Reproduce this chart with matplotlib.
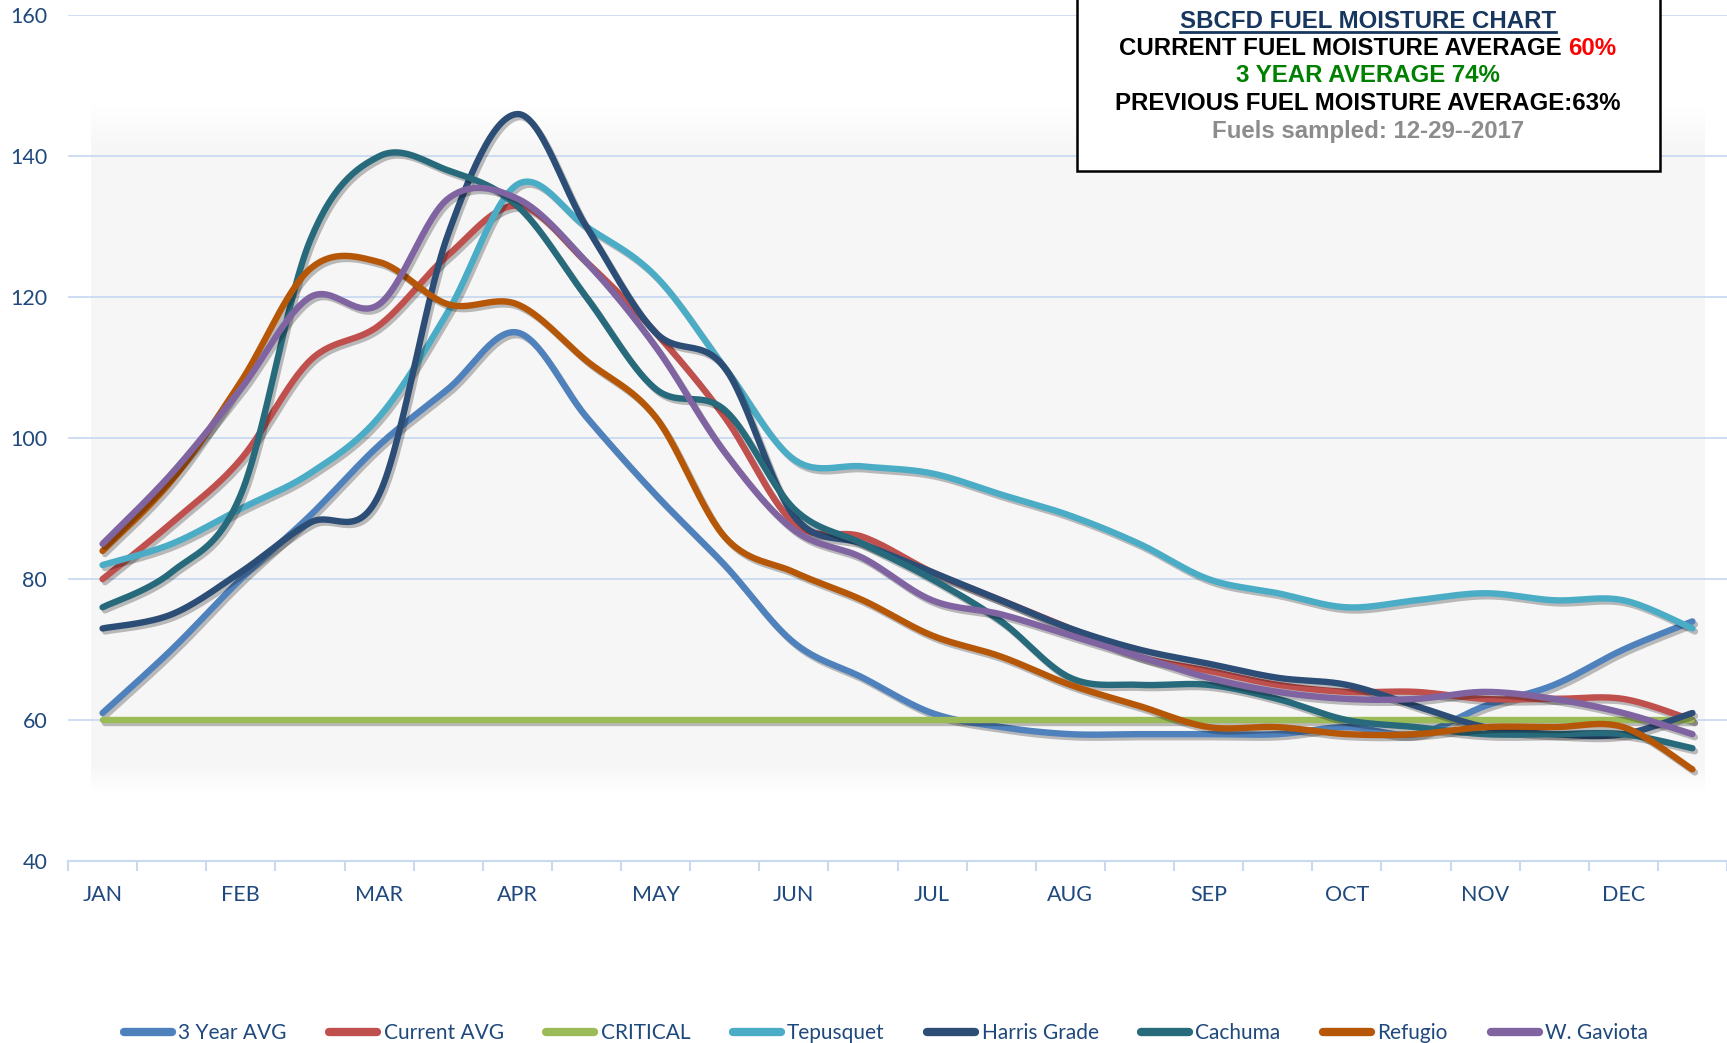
import numpy as np
import matplotlib
matplotlib.use("Agg")
import matplotlib.pyplot as plt
import matplotlib.patheffects as pe
from matplotlib.patches import Rectangle

# ---------------- data ----------------
categories = ["JAN", "", "FEB", "", "MAR", "", "APR", "", "MAY", "", "JUN", "",
              "JUL", "", "AUG", "", "SEP", "", "OCT", "", "NOV", "", "DEC", ""]

three_year_avg = [61, 70, 80, 89, 99, 107, 115, 103, 92, 82, 71, 66,
                  61, 59, 58, 58, 58, 58, 59, 58, 62, 65, 70, 74]
current_avg = [80, 88, 97, 111, 116, 126, 133, 125, 115, 103, 88, 86,
               81, 77, 73, 69, 67, 65, 64, 64, 63, 63, 63, 60]
critical = [60] * 24
tepusquet = [82, 85, 90, 95, 103, 118, 136, 130, 123, 110, 97, 96,
             95, 92, 89, 85, 80, 78, 76, 77, 78, 77, 77, 73]
harris_grade = [73, 75, 81, 88, 92, 129, 146, 130, 115, 110, 89, 85,
                81, 77, 73, 70, 68, 66, 65, 62, 59, 58, 58, 61]
cachuma = [76, 81, 92, 128, 140, 138, 133, 120, 107, 104, 90, 85,
           80, 74, 66, 65, 65, 63, 60, 59, 58, 58, 58, 56]
refugio = [84, 94, 108, 124, 125, 119, 119, 111, 103, 86, 81, 77,
           72, 69, 65, 62, 59, 59, 58, 58, 59, 59, 59, 53]
w_gaviota = [85, 95, 107, 120, 119, 134, 134, 125, 113, 98, 87, 83,
             77, 75, 72, 69, 66, 64, 63, 63, 64, 63, 61, 58]

series_names = ["3 Year AVG", "Current AVG", "CRITICAL", "Tepusquet",
                "Harris Grade", "Cachuma", "Refugio", "W. Gaviota"]
series_values = [three_year_avg, current_avg, critical, tepusquet,
                 harris_grade, cachuma, refugio, w_gaviota]
series_colors = ["#4f81bd", "#c0504d", "#9bbb59", "#4bacc6",
                 "#2c4d75", "#276a7c", "#b65708", "#8064a2"]

y_ticks = [40, 60, 80, 100, 120, 140, 160]


def smooth(xs, ys, n=30):
    """Excel-like smoothed line (Catmull-Rom Bezier through the points)."""
    xs = np.asarray(xs, float)
    ys = np.asarray(ys, float)
    px = np.concatenate([[xs[0]], xs, [xs[-1]]])
    py = np.concatenate([[ys[0]], ys, [ys[-1]]])
    outx, outy = [], []
    t = np.linspace(0, 1, n)
    for i in range(1, len(px) - 2):
        p0 = np.array([px[i], py[i]])
        p3 = np.array([px[i + 1], py[i + 1]])
        c1 = p0 + (np.array([px[i + 1], py[i + 1]]) - np.array([px[i - 1], py[i - 1]])) / 6
        c2 = p3 - (np.array([px[i + 2], py[i + 2]]) - np.array([px[i], py[i]])) / 6
        b = ((1 - t) ** 3)[:, None] * p0 + (3 * (1 - t) ** 2 * t)[:, None] * c1 \
            + (3 * (1 - t) * t ** 2)[:, None] * c2 + (t ** 3)[:, None] * p3
        outx.extend(b[:, 0])
        outy.extend(b[:, 1])
    return np.array(outx), np.array(outy)


W, H = 1727, 1043
fig = plt.figure(figsize=(W / 100, H / 100), dpi=100)
fig.patch.set_facecolor("white")

# light grey plot-area panel with soft top/bottom edges
p_top, p_bot, p_left, p_right = 105, 792, 91, 1705
ph = p_bot - p_top
rows = np.arange(ph) + p_top
alpha = np.clip((rows - 105) / 45.0, 0, 1) * np.clip((792 - rows) / 28.0, 0, 1)
grad = np.zeros((ph, 2, 4))
grad[..., :3] = 0.965
grad[..., 3] = alpha[:, None]
bg = fig.add_axes([p_left / W, 1 - p_bot / H, (p_right - p_left) / W, ph / H])
bg.imshow(grad, aspect="auto", interpolation="bilinear")
bg.set_axis_off()
bg.set_zorder(0)

ax = fig.add_axes([68 / W, 1 - 861 / H, (W - 68) / W, (861 - 15.4) / H])
ax.set_facecolor("none")
ax.set_zorder(1)

x = np.arange(len(categories))
grid_col = "#c9daf0"
label_col = "#1f497d"

for name, vals, col in zip(series_names, series_values, series_colors):
    sx, sy = smooth(x, vals)
    ax.plot(sx, sy, color=col, lw=4.6, solid_capstyle="round", label=name,
            path_effects=[pe.SimpleLineShadow(offset=(1.8, -2.2), shadow_color="k", alpha=0.25),
                          pe.Normal()])

ax.set_xlim(-0.5, len(categories) - 0.5)
ax.set_ylim(40, 160)
ax.set_yticks(y_ticks)
ax.yaxis.grid(True, color=grid_col, lw=1.3)
ax.set_axisbelow(True)

for s in ["top", "right", "left"]:
    ax.spines[s].set_visible(False)
ax.spines["bottom"].set_color(grid_col)
ax.spines["bottom"].set_linewidth(1.5)

ax.set_xticks(np.arange(-0.5, len(categories) + 0.5, 1))
ax.set_xticklabels([])
ax.tick_params(axis="x", which="major", length=7, width=1.5, color=grid_col)
ax.set_xticks(x, minor=True)
ax.set_xticklabels(categories, minor=True, fontsize=15.5, color=label_col, family="Lato")
ax.tick_params(axis="x", which="minor", length=0, pad=17)
ax.tick_params(axis="y", length=0, pad=15, labelsize=15.5, labelcolor=label_col)
for lab in ax.get_yticklabels():
    lab.set_family("Lato")

leg = fig.legend(loc="center", bbox_to_anchor=(0.513, 1 - 1033 / H), ncol=8,
                 frameon=False, handlelength=2.3, handletextpad=0.3,
                 columnspacing=2.05, prop={"family": "Lato", "size": 15})
for t in leg.get_texts():
    t.set_color(label_col)
for h in leg.legend_handles:
    h.set_linewidth(6)
    h.set_path_effects([])

# info box
fig.patches.append(Rectangle((1077 / W, 1 - 171 / H), (1660 - 1077) / W, 180 / H,
                             transform=fig.transFigure, facecolor="white",
                             edgecolor="black", lw=1.8, zorder=5))
cx = 1368 / W
bold = dict(family="Liberation Sans", weight="bold", fontsize=17.3, ha="center",
            va="center", zorder=6)
t1 = fig.text(cx, 1 - 21 / H, "SBCFD FUEL MOISTURE CHART", color="#17375e", **bold)
fig.canvas.draw()
bb = t1.get_window_extent()
fig.add_artist(plt.Line2D([bb.x0 / W, bb.x1 / W], [(bb.y0 + 1) / H, (bb.y0 + 1) / H],
                          color="#17375e", lw=2, transform=fig.transFigure, zorder=6))

# line 2 with red part
t2a = fig.text(0, 1 - 48.5 / H, "CURRENT FUEL MOISTURE AVERAGE ", color="black", **{**bold, "ha": "left"})
t2b = fig.text(0, 1 - 48.5 / H, "60%", color="#ff0000", **{**bold, "ha": "left"})
fig.canvas.draw()
w1 = t2a.get_window_extent().width
w2 = t2b.get_window_extent().width
start = 1368 - (w1 + w2) / 2
t2a.set_x(start / W)
t2b.set_x((start + w1) / W)

fig.text(cx, 1 - 76 / H, "3 YEAR AVERAGE 74%", color="#008000", **bold)
fig.text(cx, 1 - 104 / H, "PREVIOUS FUEL MOISTURE AVERAGE:63%", color="black", **bold)
fig.text(cx, 1 - 131.5 / H, "Fuels sampled: 12-29--2017", color="#8c8c8c", **bold)

fig.savefig("out.png", dpi=100, facecolor="white")
